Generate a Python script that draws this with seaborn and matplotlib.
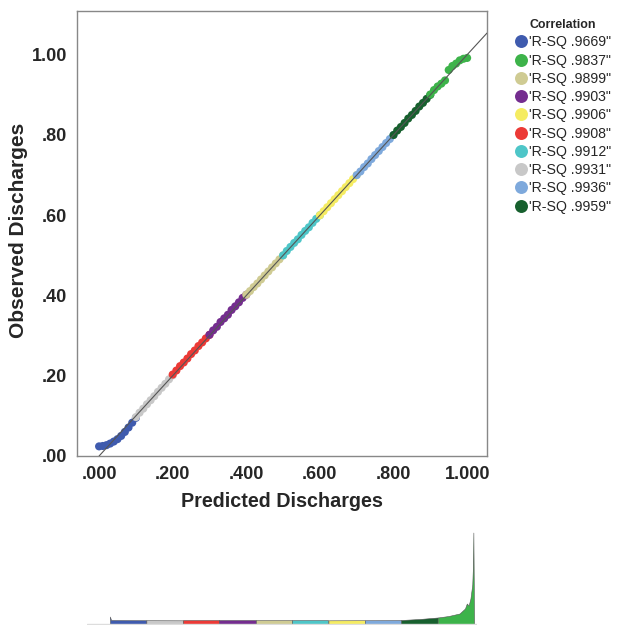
import numpy as np
import pandas as pd
import seaborn as sns
import matplotlib.pyplot as plt

# correlation labels (legend order) and their colours
labels = ["'R-SQ .9669\"", "'R-SQ .9837\"", "'R-SQ .9899\"", "'R-SQ .9903\"", "'R-SQ .9906\"",
          "'R-SQ .9908\"", "'R-SQ .9912\"", "'R-SQ .9931\"", "'R-SQ .9936\"", "'R-SQ .9959\""]
colors = ["#3F5BAE", "#3DB34A", "#CFCB93", "#742D8F", "#F5EC62",
          "#EC3A36", "#4EC6C8", "#C8C8C8", "#7EA9DC", "#17602E"]

# groups in order of predicted discharge (deciles)
group_order = [0, 7, 5, 3, 2, 6, 4, 8, 9, 1]

predicted = [
    [0.000, 0.010, 0.020, 0.030, 0.040, 0.050, 0.060, 0.070, 0.080, 0.090, 0.100],
    [0.100, 0.110, 0.120, 0.130, 0.140, 0.150, 0.160, 0.170, 0.180, 0.190, 0.200],
    [0.200, 0.210, 0.220, 0.230, 0.240, 0.250, 0.260, 0.270, 0.280, 0.290, 0.300],
    [0.300, 0.310, 0.320, 0.330, 0.340, 0.350, 0.360, 0.370, 0.380, 0.390, 0.400],
    [0.400, 0.410, 0.420, 0.430, 0.440, 0.450, 0.460, 0.470, 0.480, 0.490, 0.500],
    [0.500, 0.510, 0.520, 0.530, 0.540, 0.550, 0.560, 0.570, 0.580, 0.590, 0.600],
    [0.600, 0.610, 0.620, 0.630, 0.640, 0.650, 0.660, 0.670, 0.680, 0.690, 0.700],
    [0.700, 0.710, 0.720, 0.730, 0.740, 0.750, 0.760, 0.770, 0.780, 0.790, 0.800],
    [0.800, 0.810, 0.820, 0.830, 0.840, 0.850, 0.860, 0.870, 0.880, 0.890, 0.900],
    [0.900, 0.910, 0.920, 0.930, 0.940, 0.950, 0.960, 0.970, 0.980, 0.990, 1.000],
]
observed = [
    [0.024, 0.025, 0.027, 0.031, 0.036, 0.042, 0.050, 0.060, 0.071, 0.083, 0.095],
    [0.097, 0.108, 0.118, 0.129, 0.139, 0.149, 0.160, 0.170, 0.180, 0.191, 0.201],
    [0.203, 0.213, 0.224, 0.233, 0.243, 0.254, 0.263, 0.274, 0.283, 0.293, 0.302],
    [0.302, 0.313, 0.322, 0.334, 0.343, 0.352, 0.364, 0.373, 0.383, 0.394, 0.402],
    [0.402, 0.411, 0.421, 0.430, 0.440, 0.450, 0.460, 0.470, 0.480, 0.490, 0.500],
    [0.500, 0.511, 0.521, 0.531, 0.540, 0.551, 0.561, 0.570, 0.581, 0.591, 0.600],
    [0.600, 0.610, 0.620, 0.630, 0.640, 0.650, 0.660, 0.670, 0.680, 0.690, 0.700],
    [0.700, 0.709, 0.720, 0.729, 0.740, 0.750, 0.760, 0.770, 0.780, 0.790, 0.800],
    [0.800, 0.811, 0.820, 0.830, 0.841, 0.850, 0.860, 0.871, 0.880, 0.890, 0.900],
    [0.901, 0.912, 0.921, 0.928, 0.936, 0.962, 0.972, 0.978, 0.986, 0.990, 0.992],
]

# strip below the chart (profile in predicted order)
strip_x = [0.000, 0.003, 0.100, 0.200, 0.300, 0.400, 0.500, 0.600, 0.700, 0.800, 0.850,
           0.900, 0.930, 0.960, 0.975, 0.980, 0.985, 0.990, 0.995, 0.997, 0.998, 1.000]
strip_h = [8.0, 4.5, 4.3, 4.2, 4.2, 4.2, 4.2, 4.2, 4.3, 4.5, 5.5,
           7.0, 8.5, 11.0, 16.0, 21.0, 19.0, 26.0, 40.0, 60.0, 92.0, 0.0]

rows = []
for gi, lab_idx in enumerate(group_order):
    for p, o in zip(predicted[gi], observed[gi]):
        rows.append({"Predicted": p, "Observed": o, "Correlation": labels[lab_idx]})
df = pd.DataFrame(rows)

sns.set_style("white")
plt.rcParams["font.family"] = ["Liberation Sans", "DejaVu Sans"]

fig = plt.figure(figsize=(6.19, 6.25), dpi=100)
ax = fig.add_axes([77 / 619, 169 / 625, 410 / 619, 445 / 625])

sns.scatterplot(data=df, x="Predicted", y="Observed", hue="Correlation", hue_order=labels,
                palette=colors, s=34, linewidth=0, ax=ax, zorder=2)
ax.plot([0, 1.054], [0, 1.054], color="#555555", lw=0.8, zorder=3)

ax.set_xlim(-0.06, 1.054)
ax.set_ylim(0, 1.109)
ax.set_xticks([0, 0.2, 0.4, 0.6, 0.8, 1.0], [".000", ".200", ".400", ".600", ".800", "1.000"])
ax.set_yticks([0, 0.2, 0.4, 0.6, 0.8, 1.0], [".00", ".20", ".40", ".60", ".80", "1.00"])
ax.tick_params(axis="both", labelsize=13, length=5, width=1, pad=2, color="#777777", direction="out")
for t in ax.get_xticklabels() + ax.get_yticklabels():
    t.set_fontweight("bold")
ax.set_xlabel("Predicted Discharges", fontsize=14.2, fontweight="bold", labelpad=7)
ax.set_ylabel("Observed Discharges", fontsize=15, fontweight="bold")
ax.yaxis.set_label_coords(-49 / 410, 0.508)
for sp in ax.spines.values():
    sp.set_color("#888888")
    sp.set_linewidth(1)

handles, labs = ax.get_legend_handles_labels()
ax.legend(handles, labs, title="Correlation", loc="upper left",
          bbox_to_anchor=(508 / 619, 1 - 12 / 625), bbox_transform=fig.transFigure,
          frameon=False, fontsize=10.2, title_fontproperties={"size": 8.9, "weight": "bold"},
          markerscale=1.6, handletextpad=0.1, labelspacing=0.3, borderpad=0, handlelength=0.9)

# bottom strip
sax = fig.add_axes([87 / 619, 0, 390 / 619, 100 / 625])
xs = np.array(strip_x)
hs = np.array(strip_h)
for gi, lab_idx in enumerate(group_order):
    lo, hi = gi / 10, (gi + 1) / 10
    m = (xs >= lo - 1e-9) & (xs <= hi + 1e-9)
    sax.fill_between(xs[m], 0, hs[m], color=colors[lab_idx], edgecolor="#555555", linewidth=0.4)
sax.axhline(0.3, color="#dddddd", lw=1)
sax.set_xlim(-0.063, 1.008)
sax.set_ylim(-0.5, 99.5)
sax.axis("off")

fig.savefig("out.png", dpi=100)
